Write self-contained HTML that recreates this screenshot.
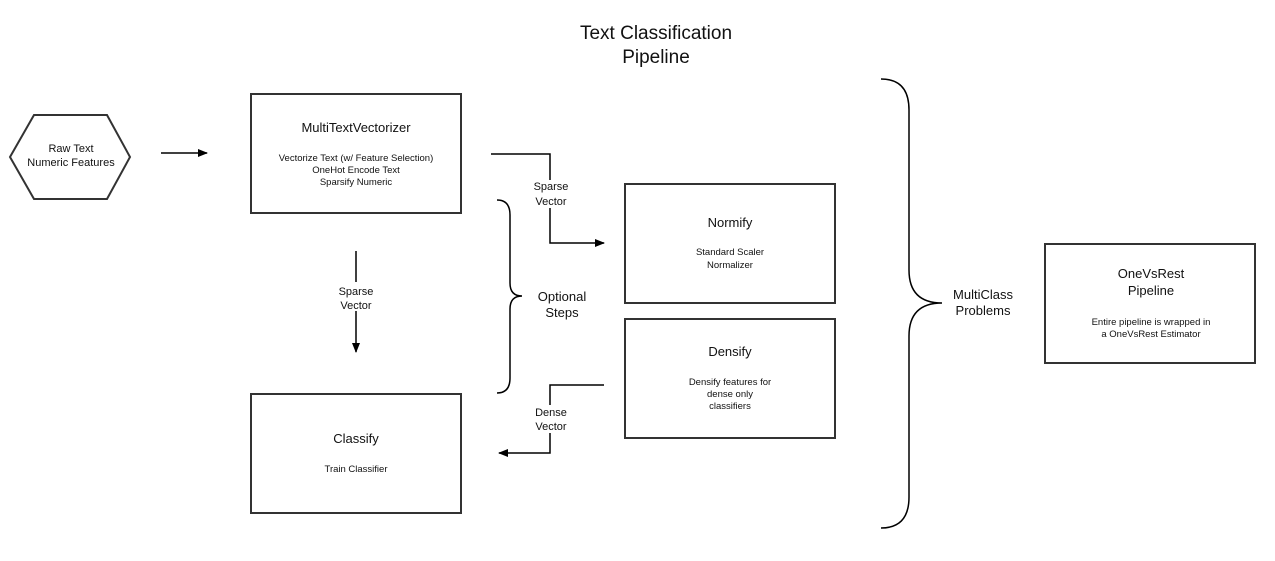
<!DOCTYPE html>
<html><head><style>
body{margin:0;background:#fff;}
svg{display:block;font-family:"Liberation Sans",sans-serif;}
</style></head><body>
<svg width="1275" height="561" viewBox="0 0 1275 561">
<defs><marker id="a" markerWidth="10" markerHeight="8" refX="9" refY="4" orient="auto" markerUnits="userSpaceOnUse"><path d="M0,0 L10,4 L0,8 z" fill="#000"/></marker></defs>
<g fill="none" stroke="#333" stroke-width="2">
<polygon points="10,157 34,115 107,115 130,157 107,199 34,199"/>
<rect x="251" y="94" width="210" height="119"/>
<rect x="625" y="184" width="210" height="119"/>
<rect x="625" y="319" width="210" height="119"/>
<rect x="251" y="394" width="210" height="119"/>
<rect x="1045" y="244" width="210" height="119"/>
</g>
<g fill="none" stroke="#000" stroke-width="1.5">
<line x1="161" y1="153" x2="207" y2="153" marker-end="url(#a)"/>
<path d="M491,154 H550 V180"/>
<path d="M550,208 V243 H604" marker-end="url(#a)"/>
<line x1="356" y1="251" x2="356" y2="282"/>
<line x1="356" y1="311" x2="356" y2="352" marker-end="url(#a)"/>
<path d="M604,385 H550 V405"/>
<path d="M550,433 V453 H499" marker-end="url(#a)"/>
<path d="M497,200 Q510,200 510,215 V283 Q510,296 522,296 Q510,296 510,309 V378 Q510,393 497,393"/>
<path d="M881,79 Q909,79 909,110 V270 Q909,303 942,303 Q909,303 909,336 V497 Q909,528 881,528"/>
</g>
<g text-anchor="middle" fill="#111">
<text x="656" y="39" font-size="19">Text Classification</text>
<text x="656" y="63" font-size="19">Pipeline</text>
<text x="71" y="152" font-size="11">Raw Text</text>
<text x="71" y="166" font-size="11">Numeric Features</text>
<text x="356" y="132" font-size="13">MultiTextVectorizer</text>
<text x="356" y="161" font-size="9.5">Vectorize Text (w/ Feature Selection)</text>
<text x="356" y="173" font-size="9.5">OneHot Encode Text</text>
<text x="356" y="185" font-size="9.5">Sparsify Numeric</text>
<text x="551" y="190" font-size="11">Sparse</text>
<text x="551" y="205" font-size="11">Vector</text>
<text x="356" y="295" font-size="11">Sparse</text>
<text x="356" y="309" font-size="11">Vector</text>
<text x="551" y="416" font-size="11">Dense</text>
<text x="551" y="430" font-size="11">Vector</text>
<text x="562" y="301" font-size="13">Optional</text>
<text x="562" y="317" font-size="13">Steps</text>
<text x="730" y="227" font-size="13">Normify</text>
<text x="730" y="255" font-size="9.5">Standard Scaler</text>
<text x="730" y="268" font-size="9.5">Normalizer</text>
<text x="730" y="356" font-size="13">Densify</text>
<text x="730" y="385" font-size="9.5">Densify features for</text>
<text x="730" y="397" font-size="9.5">dense only</text>
<text x="730" y="409" font-size="9.5">classifiers</text>
<text x="356" y="443" font-size="13">Classify</text>
<text x="356" y="472" font-size="9.5">Train  Classifier</text>
<text x="983" y="299" font-size="13">MultiClass</text>
<text x="983" y="315" font-size="13">Problems</text>
<text x="1151" y="278" font-size="13">OneVsRest</text>
<text x="1151" y="295" font-size="13">Pipeline</text>
<text x="1151" y="325" font-size="9.5">Entire pipeline is wrapped in</text>
<text x="1151" y="337" font-size="9.5">a OneVsRest Estimator</text>
</g>
</svg>
</body></html>
